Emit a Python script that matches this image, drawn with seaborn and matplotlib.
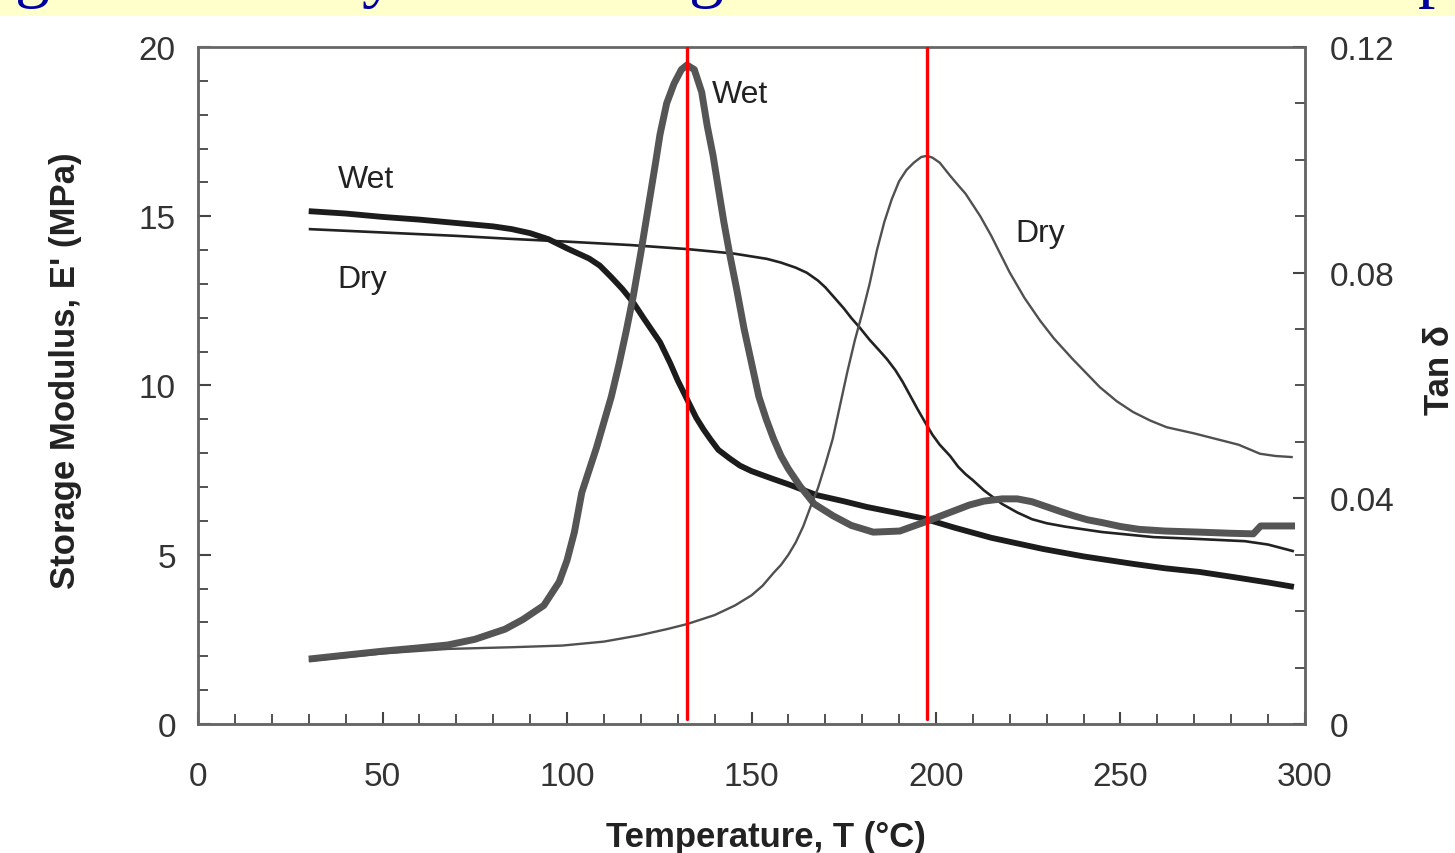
import numpy as np
import pandas as pd
import matplotlib
matplotlib.use("Agg")
import matplotlib.pyplot as plt
from matplotlib.patches import Rectangle
from matplotlib.ticker import MultipleLocator, FixedLocator
import seaborn as sns

# storage modulus, wet sample
wet_E_T = [30, 40, 50, 60, 70, 80, 85, 90, 95, 100, 103, 106, 108.9, 112, 115, 117.9,
           121, 125.2, 128, 130, 132.5, 135, 137, 138.8, 141, 144, 146.9, 150, 153,
           155.8, 160, 167.7, 175, 181.3, 190, 197, 205, 215, 229, 240, 253.4, 262,
           271.5, 280, 290, 297]
wet_E = [15.15, 15.08, 14.98, 14.90, 14.80, 14.70, 14.62, 14.50, 14.32, 14.05, 13.9,
         13.75, 13.54, 13.2, 12.85, 12.46, 11.95, 11.28, 10.65, 10.15, 9.6, 9.05, 8.7,
         8.42, 8.1, 7.85, 7.63, 7.47, 7.35, 7.24, 7.08, 6.76, 6.58, 6.41, 6.22, 6.06,
         5.8, 5.5, 5.17, 4.95, 4.73, 4.6, 4.49, 4.35, 4.18, 4.05]

# storage modulus, dry sample
dry_E_T = [30, 50, 70, 85, 100, 117, 132.5, 145, 154.2, 158, 162, 165, 168, 170, 172.1,
           175, 177, 179.4, 182, 184.5, 186.7, 189, 191, 193, 195, 197, 199, 201, 203.8,
           206, 208, 210, 213, 217.9, 222, 226, 230, 235, 245, 259, 270, 283.7, 290, 297]
dry_E = [14.62, 14.52, 14.42, 14.33, 14.25, 14.15, 14.03, 13.9, 13.74, 13.63, 13.48,
         13.33, 13.1, 12.9, 12.64, 12.28, 12.0, 11.7, 11.35, 11.05, 10.78, 10.45, 10.1,
         9.7, 9.3, 8.92, 8.55, 8.25, 7.92, 7.6, 7.38, 7.2, 6.9, 6.5, 6.25, 6.05, 5.93,
         5.83, 5.67, 5.52, 5.47, 5.40, 5.3, 5.10]

# tan delta, wet sample
wet_tan_T = [30, 40, 50, 60, 67.7, 75, 83.2, 88, 93.7, 97.9, 100, 102, 104, 106, 108,
             110, 112, 114, 116, 118, 120, 122, 124, 125.2, 127, 129, 131, 132.5, 134.5,
             136.5, 138, 139.6, 141, 142.5, 144.2, 146, 148, 150, 152, 154, 156, 158,
             160, 163.1, 167, 172.1, 177, 183, 190.2, 197, 201, 205, 209, 213, 217.9,
             222, 226, 230, 234, 237.3, 241, 245, 250, 255, 262, 271.5, 280, 286, 288,
             297.3]
wet_tan = [0.0115, 0.0122, 0.0129, 0.0135, 0.0140, 0.0150, 0.0168, 0.0185, 0.0210,
           0.0252, 0.029, 0.034, 0.041, 0.045, 0.049, 0.0535, 0.058, 0.0635, 0.0695,
           0.0760, 0.0835, 0.0915, 0.0995, 0.1045, 0.110, 0.1135, 0.1160, 0.1168, 0.116,
           0.112, 0.106, 0.1007, 0.095, 0.089, 0.0829, 0.077, 0.070, 0.064, 0.058, 0.054,
           0.0505, 0.0475, 0.0452, 0.0422, 0.039, 0.0369, 0.0352, 0.034, 0.0342, 0.0358,
           0.0368, 0.0378, 0.0388, 0.0395, 0.0399, 0.0399, 0.0394, 0.0385, 0.0376,
           0.0369, 0.0362, 0.0357, 0.035, 0.0345, 0.0342, 0.0340, 0.0338, 0.0337,
           0.0351, 0.0351]

# tan delta, dry sample
dry_tan_T = [30, 50, 67.7, 85, 98.8, 110, 119.5, 127, 132.5, 140, 145.5, 150, 153, 156,
             158, 160, 162, 164, 166, 168, 170, 172, 174, 176, 178, 180, 182, 184, 186,
             188, 190, 192, 194, 196, 197.5, 199, 201, 203.8, 206, 208, 210, 212, 215,
             217.3, 220, 224, 228.2, 232, 237, 241, 244.4, 249, 253.4, 258, 262.5, 270,
             276, 282, 287.8, 292, 296.7]
dry_tan = [0.0112, 0.0125, 0.0133, 0.0136, 0.0139, 0.0146, 0.0157, 0.0168, 0.0177,
           0.0193, 0.021, 0.0228, 0.0245, 0.0268, 0.0282, 0.0300, 0.0322, 0.035, 0.0385,
           0.0418, 0.046, 0.0505, 0.0565, 0.0625, 0.068, 0.0728, 0.078, 0.084, 0.089,
           0.093, 0.0962, 0.0982, 0.0995, 0.1005, 0.1007, 0.1004, 0.0995, 0.0972,
           0.0955, 0.094, 0.092, 0.090, 0.0865, 0.0835, 0.080, 0.0755, 0.0715, 0.0683,
           0.0647, 0.062, 0.0597, 0.0572, 0.0553, 0.0538, 0.0526, 0.0515, 0.0505,
           0.0495, 0.0479, 0.0475, 0.0473]

tg_lines = [132.5, 197.6]

labels = [("Wet", 37.9, 16.1), ("Dry", 37.9, 13.15), ("Wet", 139.3, 18.6), ("Dry", 221.4, 14.5)]

sns.set_style("white")
plt.rcParams['font.family'] = ['Liberation Sans', 'DejaVu Sans']

fig = plt.figure(figsize=(14.55, 8.54), dpi=100)
ax = fig.add_axes([0.1361, 0.1511, 0.7608, 0.7927])
ax2 = ax.twinx()

# slide title band at the top (mostly cut off in the source)
fig.patches.append(Rectangle((0, 1 - 17 / 854), 1, 17 / 854, transform=fig.transFigure,
                             facecolor='#FFFFCC', edgecolor='none', zorder=0))
for ch, xp, ha in [("g", 32, 'center'), ("y", 378, 'center'), ("g", 706, 'center'), ("p", 1418, 'left')]:
    fig.text(xp / 1455, 1 + 6 / 854, ch, ha=ha, va='baseline', fontsize=50,
             family='Liberation Serif', color='#0000A0')

sns.lineplot(x=dry_E_T, y=dry_E, ax=ax, color='#222222', lw=1.9, zorder=3)
sns.lineplot(x=wet_E_T, y=wet_E, ax=ax, color='#1c1c1c', lw=4.2, zorder=4)
sns.lineplot(x=dry_tan_T, y=dry_tan, ax=ax2, color='#505050', lw=1.7, zorder=3)
sns.lineplot(x=wet_tan_T, y=wet_tan, ax=ax2, color='#555555', lw=5.0, zorder=2)
for a in (ax, ax2):
    for ln in a.lines:
        ln.set_solid_joinstyle('round')
        ln.set_solid_capstyle('butt')
for t in tg_lines:
    ax2.axvline(t, ymin=0.008, ymax=1, color='#FF0000', lw=2.4, zorder=6)

for txt, xv, yv in labels:
    ax.text(xv, yv, txt, ha='left', va='center', fontsize=23, color='#222222')

ax.set_xlim(0, 300)
ax.set_ylim(0, 20)
ax2.set_ylim(0, 0.12)
ax.xaxis.set_major_locator(MultipleLocator(50))
ax.xaxis.set_minor_locator(MultipleLocator(10))
ax.yaxis.set_major_locator(MultipleLocator(5))
ax.yaxis.set_minor_locator(MultipleLocator(1))
ax2.yaxis.set_major_locator(FixedLocator([0, 0.04, 0.08, 0.12]))
ax2.yaxis.set_minor_locator(MultipleLocator(0.01))
ax2.set_yticklabels(["0", "0.04", "0.08", "0.12"])

ax.tick_params(axis='x', which='both', direction='in', bottom=True, top=False,
               colors='#444444', labelcolor='#333333', labelsize=24, pad=27)
ax.tick_params(axis='x', which='major', length=9, width=1.5)
ax.tick_params(axis='x', which='minor', length=7, width=1.3)
ax.tick_params(axis='y', which='both', direction='in', left=True, right=False,
               colors='#444444', labelcolor='#333333', labelsize=24, pad=16)
ax.tick_params(axis='y', which='major', length=9, width=1.5)
ax.tick_params(axis='y', which='minor', length=7, width=1.3)
ax2.tick_params(axis='y', which='both', direction='in', right=True, left=False,
                colors='#444444', labelcolor='#333333', labelsize=24, pad=18)
ax2.tick_params(axis='y', which='major', length=9, width=1.5)
ax2.tick_params(axis='y', which='minor', length=7, width=1.3)

for a in (ax, ax2):
    for s in a.spines.values():
        s.set_color('#666666')
        s.set_linewidth(1.8)
ax.spines['top'].set_color('#999999')

ax.set_xlabel("Temperature, T (°C)", fontsize=25, fontweight='bold', color='#222222')
ax.xaxis.set_label_coords(0.513, -0.142)
ax.set_ylabel("Storage Modulus, E' (MPa)", fontsize=25, fontweight='bold', color='#222222')
ax.yaxis.set_label_coords(-0.105, 0.524)
ax2.set_ylabel("Tan δ", fontsize=25, fontweight='bold', color='#222222')
ax2.yaxis.set_label_coords(1.107, 0.524)

fig.savefig("out.png", dpi=100)
